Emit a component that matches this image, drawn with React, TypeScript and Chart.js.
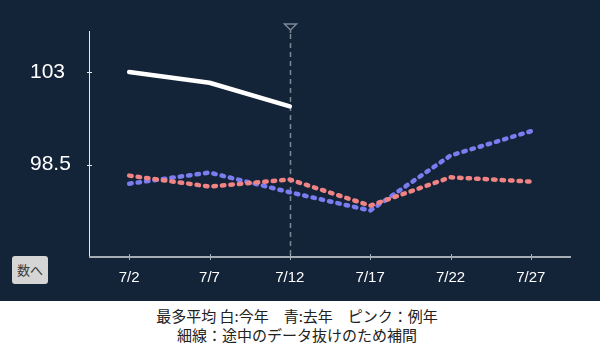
import { useEffect, useRef } from "react";
import { Chart, registerables } from "chart.js";

Chart.register(...registerables);

const days = [2, 7, 12, 17, 22, 27];
const tickLabels = ["7/2", "7/7", "7/12", "7/17", "7/22", "7/27"];
const thisYear = [103.0, 102.48, 101.33];
const lastYear = [97.57, 98.11, 97.15, 96.26, 98.94, 100.12];
const normalYear = [97.96, 97.43, 97.77, 96.5, 97.88, 97.67];
const yTicks = [98.5, 103];
const markerDay = 12;

const BG = "#132338";

const axesPlugin = {
  id: "customAxes",
  beforeDatasetsDraw(chart: any) {
    const { ctx, chartArea, scales } = chart;
    const { left, right, top, bottom } = chartArea;
    const x = scales.x;
    const y = scales.y;
    ctx.save();
    // marker line at 7/12
    const mx = Math.round(x.getPixelForValue(markerDay)) + 0.5;
    ctx.strokeStyle = "#7d8895";
    ctx.lineWidth = 1.5;
    ctx.setLineDash([5, 4]);
    ctx.beginPath();
    ctx.moveTo(mx, top + 3);
    ctx.lineTo(mx, bottom);
    ctx.stroke();
    ctx.setLineDash([]);
    ctx.beginPath();
    ctx.moveTo(mx - 6, top - 7);
    ctx.lineTo(mx + 6, top - 7);
    ctx.lineTo(mx, top - 1);
    ctx.closePath();
    ctx.moveTo(mx, top - 1);
    ctx.lineTo(mx, top + 2);
    ctx.stroke();

    // y axis line
    ctx.strokeStyle = "#e6e8ea";
    ctx.lineWidth = 1;
    ctx.beginPath();
    ctx.moveTo(left + 0.5, top);
    ctx.lineTo(left + 0.5, bottom);
    ctx.stroke();
    // y ticks
    yTicks.forEach((v) => {
      const py = Math.round(y.getPixelForValue(v)) + 0.5;
      ctx.beginPath();
      ctx.moveTo(left - 2, py);
      ctx.lineTo(left + 3, py);
      ctx.stroke();
    });
    // x axis line
    ctx.strokeStyle = "#a7adb4";
    ctx.lineWidth = 2;
    ctx.beginPath();
    ctx.moveTo(left, bottom);
    ctx.lineTo(right, bottom);
    ctx.stroke();
    ctx.lineWidth = 1;
    days.forEach((d) => {
      const px = Math.round(x.getPixelForValue(d)) + 0.5;
      ctx.beginPath();
      ctx.moveTo(px, bottom - 3);
      ctx.lineTo(px, bottom + 3);
      ctx.stroke();
    });
    ctx.restore();
  },
};

function App() {
  const canvasRef = useRef<HTMLCanvasElement | null>(null);

  useEffect(() => {
    const canvas = canvasRef.current;
    if (!canvas) return;
    const mk = (arr: number[]) => arr.map((v, i) => ({ x: days[i], y: v }));
    const chart = new Chart(canvas, {
      type: "line",
      data: {
        datasets: [
          {
            label: "例年",
            data: mk(normalYear),
            borderColor: "#f08383",
            borderWidth: 4.5,
            borderDash: [2.5, 6],
            borderCapStyle: "round",
            borderJoinStyle: "round",
            pointRadius: 0,
            tension: 0,
          },
          {
            label: "去年",
            data: mk(lastYear),
            borderColor: "#7b7cf0",
            borderWidth: 4.5,
            borderDash: [2.5, 6],
            borderCapStyle: "round",
            borderJoinStyle: "round",
            pointRadius: 0,
            tension: 0,
          },
          {
            label: "今年",
            data: mk(thisYear),
            borderColor: "#ffffff",
            borderWidth: 4.5,
            borderCapStyle: "round",
            borderJoinStyle: "round",
            pointRadius: 0,
            tension: 0,
          },
        ],
      },
      options: {
        animation: false,
        responsive: false,
        maintainAspectRatio: false,
        layout: { padding: { left: 30, right: 29, top: 31, bottom: 0 } },
        plugins: {
          legend: { display: false },
          tooltip: { enabled: false },
        },
        scales: {
          x: {
            type: "linear",
            min: -0.5,
            max: 29.5,
            grid: { display: false, drawTicks: false },
            border: { display: false },
            afterBuildTicks: (s: any) => {
              s.ticks = days.map((d) => ({ value: d }));
            },
            afterFit: (s: any) => {
              s.height = 44;
            },
            ticks: {
              autoSkip: false,
              maxRotation: 0,
              padding: 12,
              color: "#ffffff",
              font: { family: "'Liberation Sans', Arial, sans-serif", size: 15 },
              callback: (v: any) => {
                const i = days.indexOf(Number(v));
                return i >= 0 ? tickLabels[i] : "";
              },
            },
          },
          y: {
            type: "linear",
            min: 94,
            max: 105,
            grid: { display: false, drawTicks: false },
            border: { display: false },
            afterBuildTicks: (s: any) => {
              s.ticks = yTicks.map((v) => ({ value: v }));
            },
            afterFit: (s: any) => {
              s.width = 59;
            },
            ticks: {
              crossAlign: "far",
              padding: 17,
              color: "#ffffff",
              font: { family: "'Liberation Sans', Arial, sans-serif", size: 21 },
              callback: (v: any) => String(v),
            },
          },
        },
      },
      plugins: [axesPlugin],
    } as any);
    return () => chart.destroy();
  }, []);

  return (
    <div
      style={{
        position: "absolute",
        left: 0,
        top: 0,
        width: 600,
        height: 356,
        background: "#ffffff",
        overflow: "hidden",
      }}
    >
      <div style={{ position: "absolute", left: 0, top: 0, width: 600, height: 301, background: BG }}>
        <canvas ref={canvasRef} width={600} height={301} style={{ display: "block", width: 600, height: 301 }} />
        <button
          style={{
            position: "absolute",
            left: 12,
            top: 256,
            width: 36,
            height: 28,
            padding: 0,
            border: "none",
            borderRadius: 3,
            background: "#d5d5d5",
            color: "#3a3a3a",
            fontFamily: "'Noto Sans CJK JP', sans-serif",
            fontSize: 13,
            lineHeight: "28px",
          }}
        >
          数へ
        </button>
      </div>
      <div
        style={{
          position: "absolute",
          left: 0,
          top: 306,
          width: 594,
          textAlign: "center",
          fontFamily: "'Noto Sans CJK JP', sans-serif",
          fontSize: 15,
          lineHeight: "19px",
          color: "#222222",
        }}
      >
        <div>最多平均 白:今年　青:去年　ピンク：例年</div>
        <div>細線：途中のデータ抜けのため補間</div>
      </div>
    </div>
  );
}

export default App;
